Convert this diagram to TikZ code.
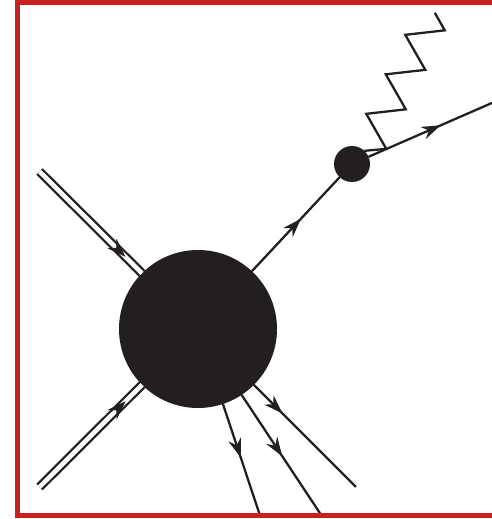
\documentclass[tikz,border=0pt]{standalone}
\usepackage{tikz}
\usetikzlibrary{arrows.meta,decorations.markings}
\definecolor{blobink}{HTML}{231F20}
\definecolor{framered}{HTML}{C8201F}

\begin{document}
\begin{tikzpicture}[
    x=1cm,y=1cm,
    blob/.style = {circle,fill=blobink,inner sep=0pt,outer sep=0pt},
    ln/.style   = {blobink,line width=1.3pt},
    dbl/.style  = {blobink,line width=1.3pt,double=white,double distance=2.6pt},
    arr/.style  = {decoration={markings,mark=at position #1 with
                   {\arrow{Stealth[length=3.8mm,width=2.6mm]}}},postaction={decorate}},
    wig/.style  = {blobink,line width=1.3pt,line join=miter},
  ]
  \useasboundingbox (0,0) rectangle (9.84,10.38);

  \node[blob,minimum size=3.16cm] (core) at (3.96,3.80) {};
  \node[blob,minimum size=0.72cm] (vx)   at (7.04,7.10) {};

  \coordinate (inU)  at (0.79,6.95);
  \coordinate (inL)  at (0.79,0.64);
  \coordinate (outA) at (5.20,0.07);
  \coordinate (outB) at (6.43,0.07);
  \coordinate (outC) at (7.12,0.64);
  \coordinate (outR) at (9.86,8.33);

  \foreach \a in {inU,inL} \draw[dbl] (\a) -- (core);
  \foreach \a in {inU,inL} \path[blobink,arr=0.84] (\a) -- (core);
  \foreach \b/\p in {outA/0.48,outB/0.51,outC/0.28} \draw[ln,arr=\p] (core) -- (\b);
  \draw[ln,arr=0.56] (core) -- (vx);
  \draw[ln,arr=0.58] (vx) -- (outR);

  % photon
  \draw[wig] (vx.47) -- ++(0.44,0.04) -- ++(-0.40,0.70) -- ++(0.79,0.09)
             -- ++(-0.40,0.70) -- ++(0.79,0.09) -- ++(-0.40,0.70)
             -- ++(0.79,0.09) -- ++(-0.20,0.35);

  \draw[framered,line width=0.1cm] (10.0,10.33) -- (0.35,10.33) -- (0.35,0.07) -- (10.0,0.07);

\end{tikzpicture}
\end{document}
